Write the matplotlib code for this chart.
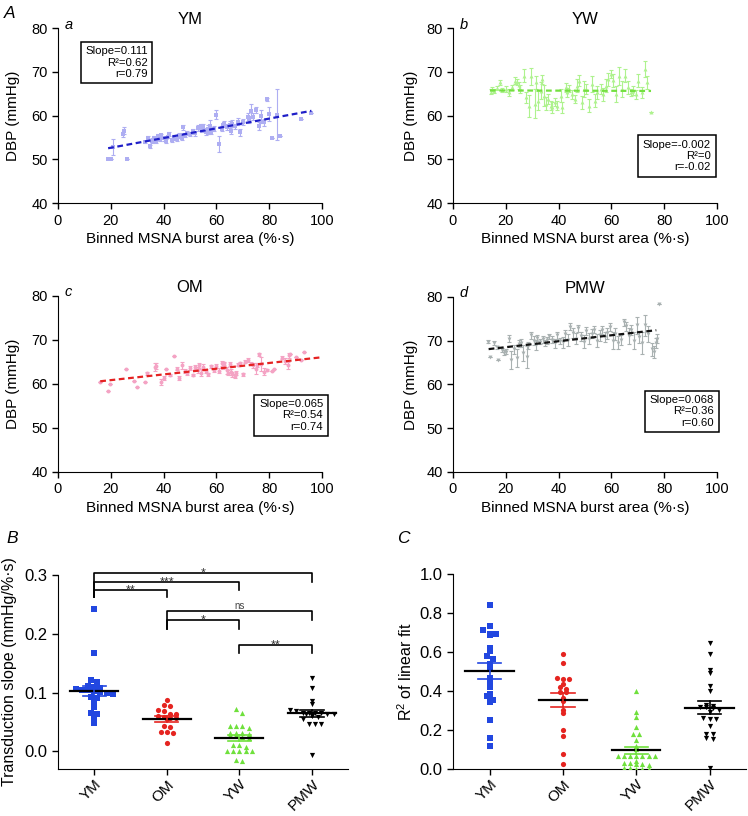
import numpy as np
import matplotlib
matplotlib.use("Agg")
import matplotlib.pyplot as plt

plt.rcParams['font.family'] = ['Liberation Sans', 'DejaVu Sans']
plt.rcParams['mathtext.default'] = 'regular'

# binned DBP vs burst area: (x, mean DBP, SEM)
ym_bins = [(19, 50.0, 0), (20, 50.0, 0), (21, 52.9, 1.8), (24.5, 55.7, 0.6), (25, 56.6, 0.9), (26, 50.0, 0),
           (33, 54.0, 0.3), (34, 55.0, 0.4), (35, 53.0, 0.4), (35.5, 54.3, 0.6), (36.5, 54.8, 0.5), (37, 54.0, 0.3),
           (38, 55.3, 0.4), (38.5, 54.6, 0.5), (39, 55.5, 0.4), (40, 54.8, 0.6), (41, 54.2, 0.5), (41.5, 55.2, 0.4),
           (42, 55.8, 0.5), (43, 54.4, 0.4), (44, 55.0, 0.5), (45, 54.6, 0.4), (46, 55.4, 0.6), (47, 55.0, 0.5),
           (47.5, 57.3, 0.5), (48, 55.6, 0.4), (49, 56.1, 0.5), (50, 55.7, 0.4), (51, 56.4, 0.5), (52, 56.0, 0.6),
           (53, 57.2, 0.6), (54, 57.7, 0.5), (54.5, 56.8, 0.5), (55, 57.4, 0.6), (56, 56.3, 0.8), (57, 56.9, 1.0),
           (57.5, 57.6, 1.5), (58, 56.3, 0.6), (59, 57.0, 0.6), (60, 60.2, 1.0), (61, 53.6, 1.8), (62, 57.0, 0.6),
           (62.5, 57.9, 0.5), (63, 58.0, 0.7), (64, 57.4, 0.6), (65, 57.9, 0.8), (65.5, 56.6, 0.9), (66, 58.2, 0.7),
           (67, 57.6, 0.6), (68, 58.6, 0.8), (69, 56.2, 0.8), (70, 58.5, 0.7), (72, 59.6, 1.0), (72.5, 59.2, 0.8),
           (73, 61.0, 1.6), (74, 59.8, 0.9), (75, 61.3, 0.6), (76, 57.6, 0.9), (77, 59.9, 1.5), (78, 58.5, 0.8),
           (79, 63.7, 0.4), (80, 60.4, 1.6), (81, 55.0, 0), (83, 60.2, 5.8), (84, 55.4, 0), (92, 59.3, 0), (96, 60.5, 0)]

yw_bins = [(14.3, 65.5, 0.5), (14.9, 66.1, 0.4), (15.5, 65.6, 0.5), (16.8, 66.3, 0.5), (17.7, 67.6, 0.6), (18.7, 65.9, 0.5),
           (19.9, 66.1, 0.6), (21.1, 65.4, 0.8), (22.4, 66.5, 0.6), (23.4, 68.0, 0.8), (24.3, 67.6, 0.7), (24.9, 67.0, 0.8),
           (25.5, 66.1, 1.0), (26.8, 69.1, 1.5), (27.7, 64.2, 1.2), (28.7, 62.3, 2.5), (29.7, 69.0, 2.0), (31.0, 62.7, 3.3),
           (31.5, 67.6, 1.5), (32.3, 63.4, 2.2), (33.2, 65.7, 2.0), (33.8, 68.3, 1.0), (34.5, 64.6, 2.5), (35.1, 62.7, 1.5),
           (36.1, 63.8, 1.2), (37.0, 62.3, 1.0), (37.6, 61.9, 1.2), (38.6, 63.1, 1.0), (39.5, 62.3, 1.0), (40.8, 64.6, 1.5),
           (41.4, 61.9, 1.2), (42.7, 66.5, 1.0), (43.3, 65.3, 1.0), (44.0, 66.1, 0.8), (45.2, 64.9, 1.0), (46.2, 63.8, 1.0),
           (47.1, 66.8, 1.5), (47.7, 68.0, 1.2), (48.7, 63.1, 1.5), (49.6, 66.1, 1.8), (50.5, 66.1, 1.2), (51.5, 62.3, 1.5),
           (52.8, 67.2, 1.8), (53.8, 63.4, 1.5), (54.7, 65.3, 1.5), (56.0, 66.1, 1.2), (56.8, 64.9, 1.5), (57.8, 66.8, 1.5),
           (58.8, 68.3, 1.5), (59.7, 69.5, 1.0), (60.6, 68.1, 1.5), (61.6, 64.9, 1.8), (62.9, 69.1, 2.0), (64.1, 66.1, 1.8),
           (65.1, 69.1, 1.5), (66.4, 66.5, 1.5), (67.3, 65.3, 0.8), (68.2, 65.7, 1.0), (69.2, 64.9, 1.0), (70.2, 68.0, 1.5),
           (71.5, 65.3, 1.2), (72.7, 70.6, 1.8), (73.6, 67.6, 1.5), (74.9, 60.8, 0)]

om_bins = [(15.8, 60.5, 0), (18.8, 58.5, 0), (19.8, 59.9, 0), (25.9, 63.3, 0), (28.7, 60.7, 0), (29.9, 59.2, 0),
           (32.8, 60.5, 0), (33.7, 62.4, 0.4), (36.6, 63.8, 0.9), (37.1, 64.1, 0.6), (39.0, 60.4, 0.7), (40.0, 61.3, 0.4),
           (40.9, 63.5, 0), (42.5, 62.0, 0.3), (43.8, 66.3, 0), (45.0, 63.5, 0.4), (45.7, 61.3, 0.5), (47.0, 64.2, 0.9),
           (48.0, 63.0, 0.5), (49.0, 62.5, 0.4), (50.0, 63.6, 0.4), (51.0, 62.0, 0.3), (52.0, 63.8, 0.5), (53.0, 63.2, 0.6),
           (53.5, 64.2, 0.5), (54.0, 62.6, 0.8), (55.0, 63.9, 0.7), (56.0, 63.0, 0.4), (57.0, 62.2, 0.3), (58.0, 64.0, 0.3),
           (59.0, 63.2, 0.4), (60.0, 64.1, 0.5), (61.0, 63.0, 0.6), (62.0, 64.7, 0.6), (62.5, 64.0, 0.5), (63.0, 64.7, 0.4),
           (64.0, 63.1, 0.8), (64.5, 62.6, 0.6), (65.0, 64.5, 0.5), (65.5, 62.8, 0.7), (66.0, 62.2, 0.6), (67.0, 61.8, 0.5),
           (67.5, 62.5, 0.4), (68.0, 64.4, 0.4), (69.0, 64.7, 0.3), (70.0, 62.2, 0.4), (71.0, 65.1, 0.4), (72.0, 65.4, 0.4),
           (73.0, 64.6, 0.4), (74.0, 64.2, 0.6), (75.0, 63.5, 1.2), (75.5, 64.3, 0.5), (76.0, 66.7, 0.3), (77.0, 64.5, 1.6),
           (78.0, 62.8, 0.8), (79.0, 63.2, 0.3), (81.0, 63.0, 0), (82.0, 63.3, 0), (85.0, 66.0, 0.4), (86.0, 65.2, 0.6),
           (87.0, 64.3, 0.8), (87.5, 66.5, 0.6), (88.0, 66.9, 0), (90.0, 66.1, 0), (92.0, 65.5, 0), (93.0, 67.2, 0)]

pmw_bins = [(13.2, 69.8, 0.3), (14.0, 66.2, 0), (15.5, 69.5, 0.5), (16.5, 68.5, 0.4), (17.0, 65.7, 0), (18.5, 67.9, 0.4),
            (19.5, 67.3, 0.5), (20.0, 67.5, 0.6), (21.2, 70.5, 0.7), (22.0, 65.6, 2.0), (23.0, 68.0, 1.0), (24.3, 66.0, 2.0),
            (25.0, 69.3, 0.8), (25.6, 69.4, 0.9), (26.5, 67.2, 1.8), (27.9, 66.2, 2.5), (28.5, 69.0, 0.8), (29.4, 71.3, 0.8),
            (30.5, 70.0, 1.0), (31.3, 69.0, 1.1), (32.0, 70.6, 0.6), (33.0, 69.8, 0.5), (34.0, 70.3, 0.8), (35.0, 69.5, 0.7),
            (35.7, 70.1, 0.8), (36.5, 71.0, 0.6), (37.5, 70.2, 0.8), (38.5, 69.4, 1.0), (39.5, 71.2, 0.8), (40.5, 70.0, 0.7),
            (41.5, 69.6, 1.2), (42.5, 71.5, 1.0), (43.5, 70.2, 1.4), (44.5, 73.2, 0.8), (45.5, 71.8, 1.2), (46.5, 70.5, 1.3),
            (47.5, 72.8, 0.9), (48.5, 71.0, 1.0), (49.5, 69.8, 1.5), (50.5, 72.2, 0.9), (51.5, 70.5, 1.2), (52.5, 71.6, 1.0),
            (53.5, 72.5, 0.8), (54.5, 70.0, 1.5), (55.5, 71.2, 1.3), (56.5, 72.4, 0.9), (57.5, 70.8, 1.1), (58.5, 71.7, 1.2),
            (59.6, 73.2, 0.9), (60.5, 70.0, 2.0), (61.5, 71.5, 1.4), (62.5, 69.5, 1.5), (63.5, 70.2, 1.2), (64.7, 74.2, 0.8),
            (65.5, 73.3, 1.0), (66.5, 71.0, 1.8), (67.5, 72.4, 1.2), (68.5, 70.0, 2.0), (69.7, 73.5, 2.0), (70.5, 70.8, 1.4),
            (71.6, 69.5, 2.5), (72.9, 73.5, 2.4), (73.8, 71.5, 1.8), (75.4, 68.0, 1.5), (76.0, 67.5, 1.4), (76.8, 69.5, 1.2),
            (77.3, 70.5, 1.0), (78.0, 78.5, 0)]

slopes = [0.111, -0.002, 0.065, 0.068]
r2_text = ['0.62', '0', '0.54', '0.36']
r_text = ['0.79', '-0.02', '0.74', '0.60']
slope_text = ['0.111', '-0.002', '0.065', '0.068']
fit_ranges = [(19, 96), (14, 75), (16, 100), (13.5, 77)]

groups = ['YM', 'OM', 'YW', 'PMW']

# individual transduction slopes (mmHg/%.s)
slope_ym = [0.243, 0.168, 0.122, 0.118, 0.112, 0.110, 0.108, 0.106, 0.105, 0.104, 0.103,
            0.101, 0.100, 0.098, 0.093, 0.090, 0.085, 0.075, 0.065, 0.064, 0.056, 0.048]
slope_om = [0.087, 0.079, 0.077, 0.070, 0.069, 0.064, 0.064, 0.060, 0.058, 0.057, 0.056,
            0.055, 0.043, 0.042, 0.033, 0.033, 0.032, 0.015]
slope_yw = [0.072, 0.066, 0.044, 0.044, 0.044, 0.040, 0.032, 0.032, 0.032, 0.030, 0.027, 0.027,
            0.024, 0.022, 0.011, 0.011, 0.001, 0.001, 0.001, 0.001, 0.001, 0.008, -0.015, -0.017]
slope_pmw = [0.125, 0.107, 0.085, 0.080, 0.070, 0.068, 0.066, 0.066, 0.065, 0.065, 0.064, 0.064,
             0.063, 0.060, 0.058, 0.055, 0.047, 0.047, 0.047, -0.007]

# individual R2 of the linear fit
r2_ym = [0.84, 0.735, 0.713, 0.69, 0.69, 0.687, 0.619, 0.605, 0.58, 0.564, 0.538,
         0.513, 0.465, 0.436, 0.419, 0.383, 0.374, 0.354, 0.342, 0.251, 0.157, 0.12]
r2_om = [0.59, 0.545, 0.465, 0.462, 0.46, 0.434, 0.422, 0.409, 0.396, 0.396, 0.366,
         0.35, 0.3, 0.286, 0.2, 0.171, 0.077, 0.026]
r2_yw = [0.402, 0.291, 0.268, 0.217, 0.18, 0.18, 0.149, 0.12, 0.1, 0.068, 0.068, 0.068, 0.068,
         0.068, 0.068, 0.068, 0.04, 0.03, 0.03, 0.028, 0.025, 0.02, 0.005, 0.003, 0.002, 0.001, 0.0]
r2_pmw = [0.648, 0.588, 0.508, 0.491, 0.427, 0.402, 0.33, 0.325, 0.32, 0.318, 0.315,
          0.3, 0.29, 0.26, 0.258, 0.255, 0.22, 0.182, 0.178, 0.16, 0.155, 0.004]

# (group i, group j, label, bracket height, leg i bottom, leg j bottom)
sig_pairs = [(0, 3, '*', 0.303, 0.262, 0.289),
             (0, 2, '***', 0.288, 0.262, 0.274),
             (0, 1, '**', 0.274, 0.262, 0.262),
             (1, 3, 'ns', 0.238, 0.209, 0.223),
             (1, 2, '*', 0.2235, 0.209, 0.209),
             (2, 3, '**', 0.181, 0.167, 0.167)]

pt_colors = ['#aeaef2', '#aef28e', '#f4a3c4', '#a9b1b1']
line_colors = ['#1f1fc8', '#74e040', '#e52222', '#111111']
markers_top = ['s', '^', 'o', 'v']
titles = ['YM', 'YW', 'OM', 'PMW']
sub = ['a', 'b', 'c', 'd']
grp_colors = ['#2247e0', '#e52420', '#6fe03c', '#000000']
grp_markers = ['s', 'o', '^', 'v']

fig = plt.figure(figsize=(7.48, 8.16), dpi=100)

top_pos = [[0.0775, 0.751, 0.353, 0.2145], [0.6056, 0.751, 0.353, 0.2145],
           [0.0775, 0.4216, 0.353, 0.2157], [0.6056, 0.4216, 0.353, 0.2145]]
box_pos = [(0.222, 0.803), (0.848, 0.269), (0.883, 0.321), (0.867, 0.346)]
ylab_pad = [8, 6, 8, 6]

for k, bins in enumerate([ym_bins, yw_bins, om_bins, pmw_bins]):
    ax = fig.add_axes(top_pos[k])
    arr = np.array(bins)
    x, y, e = arr[:, 0], arr[:, 1], arr[:, 2]
    ax.errorbar(x, y, yerr=e, fmt='none', ecolor=pt_colors[k], elinewidth=0.8, capsize=1.3, capthick=0.8)
    ax.scatter(x, y, marker=markers_top[k], s=8, color=pt_colors[k], linewidths=0, zorder=3)
    b = y.mean() - slopes[k] * x.mean()
    xf = np.array(fit_ranges[k])
    ax.plot(xf, slopes[k] * xf + b, color=line_colors[k], lw=1.6, ls=(0, (2.6, 1.6)), zorder=4)
    ax.set_xlim(0, 100)
    ax.set_ylim(40, 80)
    ax.set_xticks(range(0, 101, 20))
    ax.set_yticks(range(40, 81, 10))
    for s in ['top', 'right']:
        ax.spines[s].set_visible(False)
    ax.tick_params(labelsize=10.5, direction='out', length=4, width=1)
    ax.set_xlabel('Binned MSNA burst area (%·s)', fontsize=11, labelpad=3)
    ax.set_ylabel('DBP (mmHg)', fontsize=11, labelpad=ylab_pad[k])
    ax.set_title(titles[k], fontsize=12, pad=3)
    ax.text(0.025, 1.02, sub[k], transform=ax.transAxes, fontsize=10.5, style='italic', va='center')
    txt = 'Slope=%s\nR²=%s\nr=%s' % (slope_text[k], r2_text[k], r_text[k])
    ax.text(box_pos[k][0], box_pos[k][1], txt, transform=ax.transAxes, fontsize=8.2,
            ha='center', va='center', multialignment='right', linespacing=1.15,
            bbox=dict(boxstyle='square,pad=0.4', fc='white', ec='black', lw=1.1), zorder=5)


def swarm(vals, bin_h, step):
    vals = np.asarray(vals)
    off = np.zeros(len(vals))
    bins = np.round(vals / bin_h)
    for bb in np.unique(bins):
        idx = np.where(bins == bb)[0]
        off[idx] = (np.arange(len(idx)) - (len(idx) - 1) / 2) * step
    return off


def dot_panel(ax, data, bin_h, msize):
    for i, vals in enumerate(data):
        vals = np.array(vals)
        xo = i + swarm(vals, bin_h, 0.085)
        ax.scatter(xo, vals, marker=grp_markers[i], s=msize, color=grp_colors[i], linewidths=0, zorder=3)
        m = vals.mean()
        sem = vals.std(ddof=1) / np.sqrt(len(vals))
        ax.plot([i - 0.33, i + 0.33], [m, m], color='black', lw=1.6, zorder=4)
        ax.plot([i, i], [m - sem, m + sem], color=grp_colors[i], lw=1.2, zorder=4)
        for v in (m - sem, m + sem):
            ax.plot([i - 0.16, i + 0.16], [v, v], color=grp_colors[i], lw=1.2, zorder=4)
    ax.set_xlim(-0.5, 3.5)
    ax.set_xticks(range(4))
    ax.set_xticklabels(groups, rotation=45, ha='right', rotation_mode='anchor', fontsize=11)
    for s in ['top', 'right']:
        ax.spines[s].set_visible(False)
    ax.tick_params(axis='y', labelsize=12)
    ax.tick_params(direction='out', length=4, width=1)
    ax.tick_params(axis='x', pad=2)


axB = fig.add_axes([0.0775, 0.0576, 0.388, 0.2377])
dot_panel(axB, [slope_ym, slope_om, slope_yw, slope_pmw], 0.0085, 14)
axB.set_ylim(-0.03, 0.3)
axB.set_yticks([0.0, 0.1, 0.2, 0.3])
axB.set_yticklabels(['0.0', '0.1', '0.2', '0.3'])
axB.set_ylabel('Transduction slope (mmHg/%·s)', fontsize=11.5, labelpad=5)
for i, j, lab, h, lo_i, lo_j in sig_pairs:
    axB.plot([i, i, j, j], [lo_i, h, h, lo_j], color='black', lw=1.2, clip_on=False)
    if lab == 'ns':
        axB.text((i + j) / 2, h + 0.001, lab, ha='center', va='bottom', fontsize=7, color='#444444')
    else:
        axB.text((i + j) / 2, h - 0.006, lab, ha='center', va='baseline', fontsize=9, color='#333333')

axC = fig.add_axes([0.6056, 0.0576, 0.392, 0.239])
dot_panel(axC, [r2_ym, r2_om, r2_yw, r2_pmw], 0.026, 14)
axC.set_ylim(0, 1.0)
axC.set_yticks(np.arange(0, 1.01, 0.2))
axC.set_yticklabels(['0.0', '0.2', '0.4', '0.6', '0.8', '1.0'])
axC.set_ylabel('R$^2$ of linear fit', fontsize=11.5, labelpad=3)

fig.text(0.005, 0.993, 'A', fontsize=12.5, style='italic', va='top')
fig.text(0.008, 0.349, 'B', fontsize=12.5, style='italic', va='top')
fig.text(0.531, 0.349, 'C', fontsize=12.5, style='italic', va='top')

fig.savefig('out.png', dpi=100)
